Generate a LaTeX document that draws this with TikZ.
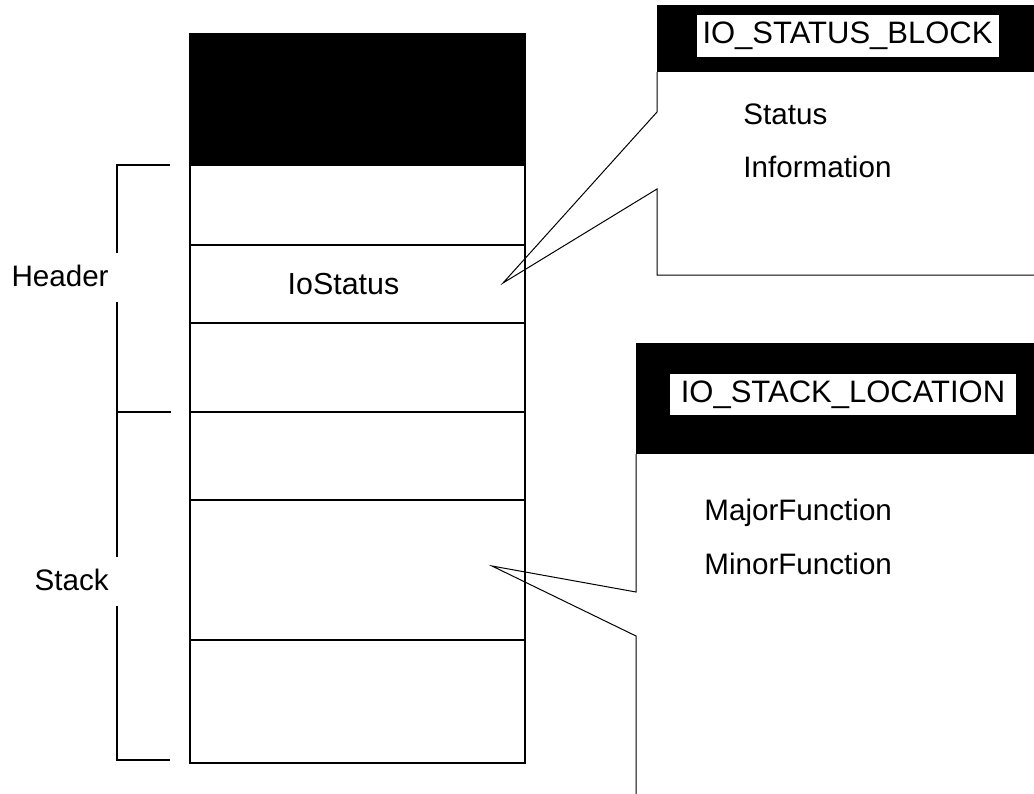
\documentclass[tikz,border=0pt]{standalone}
\usepackage{fontspec}
\setmainfont{Liberation Sans}
\usepackage{tikz}
\usetikzlibrary{positioning}
\tikzstyle{cell} = [draw=black, line width=0.7pt, rectangle, minimum width=167.5pt, inner sep=0pt, outer sep=0pt, font=\fontsize{14.8}{18}\selectfont]
\tikzstyle{blackcell} = [cell, fill=black]
\tikzstyle{blackhead} = [fill=black, rectangle, inner sep=0pt, outer sep=0pt]
\tikzstyle{fancytag} = [fill=white, text=black, inner xsep=3pt, minimum height=20.5pt, font=\fontsize{15.5}{18}\selectfont]
\tikzstyle{field} = [inner sep=0pt, anchor=base west, font=\fontsize{14.8}{18}\selectfont]
\tikzstyle{side} = [fill=white, inner xsep=6pt, inner ysep=6pt, text depth=0.2em, anchor=base east, font=\fontsize{14.8}{18}\selectfont]
\tikzstyle{callout} = [draw=black, line width=0.5pt]
\begin{document}
\begin{tikzpicture}[x=0.5pt, y=-0.5pt]
	\useasboundingbox (0,0) rectangle (1034,793);
	\clip (0,0) rectangle (1034,793);
	% the IRP column
	\node[blackcell, minimum height=65.5pt, anchor=north] (top) at (357.5,34) {};
	\node[cell, minimum height=40pt, below=0pt of top] (r1) {};
	\node[cell, minimum height=39pt, below=0pt of r1] (r2) {};
	\node[cell, minimum height=44.5pt, below=0pt of r2] (r3) {};
	\node[cell, minimum height=44pt, below=0pt of r3] (r4) {};
	\node[cell, minimum height=70pt, below=0pt of r4] (r5) {};
	\node[cell, minimum height=61.5pt, below=0pt of r5] (r6) {};
	\node[font=\fontsize{15.2}{18}\selectfont] (iostatus) at ([xshift=-7pt]r2.center) {IoStatus};
	% bracket on the left
	\draw[line width=0.7pt] ([xshift=-10pt]r1.north west) -- (117,165) |- ([xshift=-10pt,yshift=1.5pt]r6.south west);
	\draw[line width=0.7pt] (117,412) -- ([xshift=-9.5pt]r4.north west);
	\node[side] (header) at (121,286) {Header};
	\node[side] (stack) at (121,590) {Stack};
	% tips of the callouts
	\coordinate (iotip) at (503,283);
	\coordinate (sltip) at (492,566);
	% IO_STATUS_BLOCK
	\node[blackhead, minimum width=191.5pt, minimum height=33.5pt, anchor=north west] (sbhead) at (657,5) {};
	\node[fancytag] (sbtag) at (847.5,36) {IO\_STATUS\_BLOCK};
	\draw[callout] (sbhead.south west) -- (657,112) -- (iotip) -- (657,189) -- (657,275) -- (1040,275);
	\node[field] (status) at (743,124) {Status};
	\node[field] (info) at (743,177) {Information};
	% IO_STACK_LOCATION
	\node[blackhead, minimum width=202pt, minimum height=55.5pt, anchor=north west] (slhead) at (636,343) {};
	\node[fancytag, inner xsep=5.5pt] (sltag) at (843,394.5) {IO\_STACK\_LOCATION};
	\draw[callout] (slhead.south west) -- (636,592) -- (sltip) -- (636,636) -- (636,800);
	\node[field] (major) at (704,520) {MajorFunction};
	\node[field] (minor) at (704,574) {MinorFunction};
\end{tikzpicture}
\end{document}
